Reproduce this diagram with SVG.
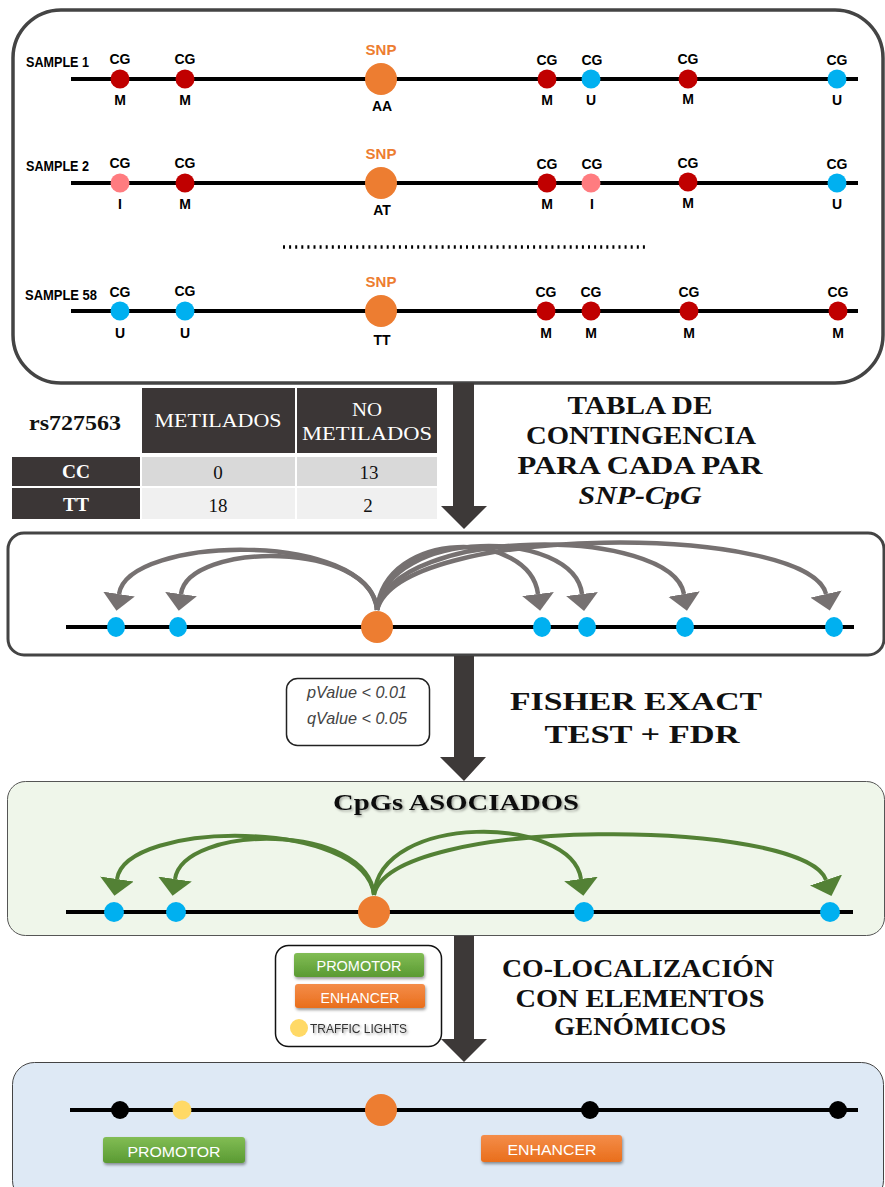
<svg xmlns="http://www.w3.org/2000/svg" width="885" height="1187" viewBox="0 0 885 1187">
<style>
.lbl{font-family:"Liberation Sans",Arial,sans-serif;font-weight:bold;font-size:14px;fill:#000;text-anchor:middle;}
.snpl{font-family:"Liberation Sans",Arial,sans-serif;font-weight:bold;font-size:15px;fill:#ed7d31;text-anchor:middle;}
.slbl{font-family:"Liberation Sans",Arial,sans-serif;font-weight:bold;font-size:14px;fill:#000;}
.head{font-family:"Liberation Serif","Times New Roman",serif;font-weight:bold;font-size:25px;fill:#111;text-anchor:middle;}
.tcell{font-family:"Liberation Serif","Times New Roman",serif;font-size:19px;text-anchor:middle;}
.btn{font-family:"Liberation Sans",Arial,sans-serif;font-size:15px;fill:#fff;text-anchor:middle;}
.chrom{stroke:#000;stroke-width:4;fill:none;}
.red{fill:#c00000;}
.blue{fill:#00b0f0;}
.pink{fill:#ff7c80;}
.snp{fill:#ed7d31;}
.dark{fill:#3b3636;}
.big{fill:#3d3938;}
.garc{fill:none;stroke:#767171;stroke-width:4.5;marker-end:url(#headGray);}
.greenarc{fill:none;stroke:#538135;stroke-width:4;marker-end:url(#headGreen);}
</style>
<defs>
<marker id="headGray" viewBox="0 0 17 32" refX="0" refY="16" markerWidth="17" markerHeight="32" orient="auto" markerUnits="userSpaceOnUse">
<path d="M0,0 L17,16 L0,32 z" fill="#767171"/>
</marker>
<marker id="headGreen" viewBox="0 0 17 34" refX="0" refY="17" markerWidth="17" markerHeight="34" orient="auto" markerUnits="userSpaceOnUse">
<path d="M0,0 L17,17 L0,34 z" fill="#538135"/>
</marker>
<linearGradient id="gGreen" x1="0" y1="0" x2="0" y2="1">
<stop offset="0" stop-color="#82bd55"/>
<stop offset="1" stop-color="#5a9a32"/>
</linearGradient>
<linearGradient id="gOrange" x1="0" y1="0" x2="0" y2="1">
<stop offset="0" stop-color="#f48d4a"/>
<stop offset="1" stop-color="#e96e1b"/>
</linearGradient>
<filter id="shadow" x="-20%" y="-30%" width="140%" height="180%">
<feDropShadow dx="1" dy="2" stdDeviation="1.5" flood-color="#000" flood-opacity="0.4"/>
</filter>
<filter id="tshadow" x="-10%" y="-30%" width="120%" height="170%">
<feDropShadow dx="1.5" dy="1.5" stdDeviation="1.2" flood-color="#000" flood-opacity="0.35"/>
</filter>
</defs>

<!-- Panels -->
<g id="panel-samples">
<rect x="13" y="10" width="870" height="373" rx="48" ry="48" fill="#fff" stroke="#444" stroke-width="3.5"/>
</g>
<g id="panel-pairs">
<rect x="8" y="533" width="876" height="122" rx="16" ry="16" fill="#fff" stroke="#444" stroke-width="3"/>
</g>
<g id="panel-associated">
<rect x="7.5" y="781.5" width="877" height="154" rx="18" ry="18" fill="#eff6ea" stroke="#555" stroke-width="1"/>
</g>
<g id="panel-colocalization">
<rect x="12.5" y="1062.5" width="871" height="140" rx="22" ry="22" fill="#dee9f5" stroke="#444" stroke-width="1"/>
</g>

<!-- Sample 1 -->
<g id="sample1">
<text class="slbl" x="26" y="67" textLength="63" lengthAdjust="spacingAndGlyphs">SAMPLE 1</text>
<line class="chrom" x1="71" y1="79" x2="858" y2="79"/>
<circle class="red" cx="120" cy="79" r="9.5"/>
<circle class="red" cx="185" cy="79" r="9.5"/>
<circle class="snp" cx="381" cy="79" r="16"/>
<circle class="red" cx="547" cy="79" r="9.5"/>
<circle class="blue" cx="591" cy="79" r="9.5"/>
<circle class="red" cx="688" cy="79" r="9.5"/>
<circle class="blue" cx="837" cy="79" r="9.5"/>
<text class="lbl" x="120" y="64">CG</text>
<text class="lbl" x="185" y="64">CG</text>
<text class="snpl" x="381" y="55">SNP</text>
<text class="lbl" x="547" y="65">CG</text>
<text class="lbl" x="592" y="65">CG</text>
<text class="lbl" x="688" y="64">CG</text>
<text class="lbl" x="837" y="65">CG</text>
<text class="lbl" x="120" y="105">M</text>
<text class="lbl" x="185" y="105">M</text>
<text class="lbl" x="382" y="111">AA</text>
<text class="lbl" x="547" y="105">M</text>
<text class="lbl" x="591" y="105">U</text>
<text class="lbl" x="688" y="104">M</text>
<text class="lbl" x="837" y="105">U</text>
</g>

<!-- Sample 2 -->
<g id="sample2">
<text class="slbl" x="26" y="171" textLength="63" lengthAdjust="spacingAndGlyphs">SAMPLE 2</text>
<line class="chrom" x1="71" y1="183" x2="858" y2="183"/>
<circle class="pink" cx="120" cy="183" r="9.5"/>
<circle class="red" cx="185" cy="183" r="9.5"/>
<circle class="snp" cx="381" cy="183" r="16"/>
<circle class="red" cx="547" cy="183" r="9.5"/>
<circle class="pink" cx="591" cy="183" r="9.5"/>
<circle class="red" cx="688" cy="182" r="9.5"/>
<circle class="blue" cx="837" cy="183" r="9.5"/>
<text class="lbl" x="120" y="168">CG</text>
<text class="lbl" x="185" y="168">CG</text>
<text class="snpl" x="381" y="159">SNP</text>
<text class="lbl" x="547" y="169">CG</text>
<text class="lbl" x="592" y="169">CG</text>
<text class="lbl" x="688" y="168">CG</text>
<text class="lbl" x="837" y="169">CG</text>
<text class="lbl" x="120" y="209">I</text>
<text class="lbl" x="185" y="209">M</text>
<text class="lbl" x="382" y="215">AT</text>
<text class="lbl" x="547" y="209">M</text>
<text class="lbl" x="592" y="209">I</text>
<text class="lbl" x="688" y="208">M</text>
<text class="lbl" x="837" y="209">U</text>
</g>

<g id="ellipsis">
<line x1="283" y1="247" x2="648" y2="247" stroke="#000" stroke-width="3.5" stroke-dasharray="2 4.1"/>
</g>

<!-- Sample 58 -->
<g id="sample58">
<text class="slbl" x="25" y="300" textLength="72" lengthAdjust="spacingAndGlyphs">SAMPLE 58</text>
<line class="chrom" x1="71" y1="311" x2="858" y2="311"/>
<circle class="blue" cx="120" cy="311" r="9.5"/>
<circle class="blue" cx="185" cy="311" r="9.5"/>
<circle class="snp" cx="381" cy="311" r="16"/>
<circle class="red" cx="546" cy="311" r="9.5"/>
<circle class="red" cx="591" cy="311" r="9.5"/>
<circle class="red" cx="689" cy="311" r="9.5"/>
<circle class="red" cx="838" cy="311" r="9.5"/>
<text class="lbl" x="120" y="297">CG</text>
<text class="lbl" x="185" y="296">CG</text>
<text class="snpl" x="381" y="287">SNP</text>
<text class="lbl" x="546" y="297">CG</text>
<text class="lbl" x="591" y="297">CG</text>
<text class="lbl" x="689" y="297">CG</text>
<text class="lbl" x="838" y="297">CG</text>
<text class="lbl" x="120" y="338">U</text>
<text class="lbl" x="185" y="338">U</text>
<text class="lbl" x="382" y="345">TT</text>
<text class="lbl" x="546" y="338">M</text>
<text class="lbl" x="591" y="338">M</text>
<text class="lbl" x="689" y="338">M</text>
<text class="lbl" x="838" y="338">M</text>
</g>

<!-- Contingency table -->
<g id="table">
<text x="75" y="430" font-family="'Liberation Serif','Times New Roman',serif" font-weight="bold" font-size="20" text-anchor="middle" textLength="92" lengthAdjust="spacingAndGlyphs" fill="#111">rs727563</text>
<rect class="dark" x="142" y="388" width="153" height="65"/>
<rect class="dark" x="297" y="388" width="140" height="65"/>
<rect class="dark" x="12" y="457" width="128" height="29"/>
<rect x="142" y="457" width="153" height="29" fill="#d9d9d9"/>
<rect x="297" y="457" width="140" height="29" fill="#d9d9d9"/>
<rect class="dark" x="12" y="488" width="128" height="31"/>
<rect x="142" y="488" width="153" height="31" fill="#f0f0f0"/>
<rect x="297" y="488" width="140" height="31" fill="#f0f0f0"/>
<text class="tcell" x="218" y="427" fill="#fff" textLength="127" lengthAdjust="spacingAndGlyphs">METILADOS</text>
<text class="tcell" x="367" y="416" fill="#fff" textLength="30" lengthAdjust="spacingAndGlyphs">NO</text>
<text class="tcell" x="367" y="440" fill="#fff" textLength="130" lengthAdjust="spacingAndGlyphs">METILADOS</text>
<text class="tcell" x="76" y="478" fill="#fff" font-weight="bold" textLength="28" lengthAdjust="spacingAndGlyphs">CC</text>
<text class="tcell" x="218" y="479" fill="#111">0</text>
<text class="tcell" x="369" y="479" fill="#111">13</text>
<text class="tcell" x="76" y="511" fill="#fff" font-weight="bold" textLength="26" lengthAdjust="spacingAndGlyphs">TT</text>
<text class="tcell" x="218" y="512" fill="#111">18</text>
<text class="tcell" x="368" y="512" fill="#111">2</text>
</g>

<g id="label-tabla">
<text class="head" x="640" y="414" textLength="145" lengthAdjust="spacingAndGlyphs">TABLA DE</text>
<text class="head" x="641" y="444" textLength="230" lengthAdjust="spacingAndGlyphs">CONTINGENCIA</text>
<text class="head" x="640" y="474" textLength="245" lengthAdjust="spacingAndGlyphs">PARA CADA PAR</text>
<text class="head" x="640" y="504" font-style="italic" textLength="123" lengthAdjust="spacingAndGlyphs">SNP-CpG</text>
</g>

<!-- Panel 2 content -->
<g id="pairs-chromosome">
<line class="chrom" x1="66" y1="627" x2="854" y2="627"/>
<ellipse class="blue" cx="116" cy="627" rx="9" ry="10"/>
<ellipse class="blue" cx="178" cy="627" rx="9" ry="10"/>
<ellipse class="snp" cx="377" cy="627" rx="16" ry="16"/>
<ellipse class="blue" cx="542" cy="627" rx="9" ry="10"/>
<ellipse class="blue" cx="587" cy="627" rx="9" ry="10"/>
<ellipse class="blue" cx="685" cy="627" rx="9" ry="10"/>
<ellipse class="blue" cx="834" cy="627" rx="9" ry="10"/>
</g>

<g id="pvalue-box">
<rect x="286.5" y="678.5" width="143" height="67" rx="11" ry="11" fill="#fff" stroke="#222" stroke-width="1.5"/>
<text x="357" y="698" font-family="'Liberation Sans',Arial,sans-serif" font-style="italic" font-size="17" fill="#444" text-anchor="middle" textLength="100" lengthAdjust="spacingAndGlyphs">pValue &lt; 0.01</text>
<text x="357" y="724" font-family="'Liberation Sans',Arial,sans-serif" font-style="italic" font-size="17" fill="#444" text-anchor="middle" textLength="100" lengthAdjust="spacingAndGlyphs">qValue &lt; 0.05</text>
</g>

<g id="label-fisher">
<text class="head" x="636" y="710" font-size="26" textLength="252" lengthAdjust="spacingAndGlyphs">FISHER EXACT</text>
<text class="head" x="642" y="743" font-size="26" textLength="195" lengthAdjust="spacingAndGlyphs">TEST + FDR</text>
</g>

<!-- Green panel content -->
<g id="associated-title">
<text x="456" y="810" font-family="'Liberation Serif','Times New Roman',serif" font-weight="bold" font-size="24" fill="#111" text-anchor="middle" textLength="246" lengthAdjust="spacingAndGlyphs" filter="url(#tshadow)">CpGs ASOCIADOS</text>
</g>
<g id="associated-chromosome">
<line class="chrom" x1="66" y1="912" x2="853" y2="912"/>
<circle class="blue" cx="114" cy="912" r="10"/>
<circle class="blue" cx="176" cy="912" r="10"/>
<circle class="snp" cx="374" cy="912" r="16"/>
<circle class="blue" cx="584" cy="912" r="10"/>
<circle class="blue" cx="830" cy="912" r="10"/>
</g>

<g id="legend">
<rect x="275.5" y="945.5" width="166" height="101" rx="13" ry="13" fill="#fff" stroke="#111" stroke-width="1.5"/>
<rect x="294" y="953" width="130" height="24" rx="3" fill="url(#gGreen)" filter="url(#shadow)"/>
<text class="btn" x="359" y="971" textLength="85" lengthAdjust="spacingAndGlyphs">PROMOTOR</text>
<rect x="295" y="984" width="130" height="24" rx="3" fill="url(#gOrange)" filter="url(#shadow)"/>
<text class="btn" x="360" y="1003" textLength="79" lengthAdjust="spacingAndGlyphs">ENHANCER</text>
<circle cx="299" cy="1028" r="9" fill="#ffd966"/>
<text x="310" y="1033" font-family="'Liberation Sans',Arial,sans-serif" font-size="13" fill="#333" textLength="97" lengthAdjust="spacingAndGlyphs" filter="url(#tshadow)">TRAFFIC LIGHTS</text>
</g>

<g id="label-colocalization">
<text class="head" x="638" y="977" textLength="272" lengthAdjust="spacingAndGlyphs">CO-LOCALIZACIÓN</text>
<text class="head" x="640" y="1007" textLength="249" lengthAdjust="spacingAndGlyphs">CON ELEMENTOS</text>
<text class="head" x="640" y="1035" textLength="172" lengthAdjust="spacingAndGlyphs">GENÓMICOS</text>
</g>

<!-- Bottom panel content -->
<g id="colocalization-chromosome">
<line class="chrom" x1="70" y1="1110" x2="858" y2="1110"/>
<circle cx="120" cy="1110" r="9" fill="#000"/>
<circle cx="182" cy="1110" r="9.5" fill="#ffd966"/>
<circle class="snp" cx="381" cy="1110" r="16"/>
<circle cx="590" cy="1110" r="9" fill="#000"/>
<circle cx="838" cy="1110" r="9" fill="#000"/>
</g>
<g id="promotor-element">
<rect x="103" y="1137" width="142" height="26" rx="3" fill="url(#gGreen)" filter="url(#shadow)"/>
<text class="btn" x="174" y="1157" font-size="17" textLength="93" lengthAdjust="spacingAndGlyphs">PROMOTOR</text>
</g>
<g id="enhancer-element">
<rect x="481" y="1135" width="141" height="27" rx="3" fill="url(#gOrange)" filter="url(#shadow)"/>
<text class="btn" x="552" y="1155" font-size="17" textLength="89" lengthAdjust="spacingAndGlyphs">ENHANCER</text>
</g>

<!-- Connectors -->
<g id="connectors">
<path class="big" d="M453,383 H474 V506 H487 L464,529 L441,506 H453 Z"/>
<path class="big" d="M454,656 H474 V757 H486 L464,781 L440,757 H454 Z"/>
<path class="big" d="M454,936 H474 V1039 H487 L464,1062 L441,1039 H454 Z"/>

<path class="garc" d="M377,610 C370,530 128,535 119,594"/>
<path class="garc" d="M377,610 C372,540 188,542 181,594"/>
<path class="garc" d="M377,610 C385,528 530,530 538,594"/>
<path class="garc" d="M377,610 C388,527 574,528 582,594"/>
<path class="garc" d="M377,610 C395,525 672,526 684,594"/>
<path class="garc" d="M377,610 C400,522 810,524 826,594"/>

<path class="greenarc" d="M374,895 C365,818 126,820 117,879"/>
<path class="greenarc" d="M374,895 C368,822 183,824 175,879"/>
<path class="greenarc" d="M374,895 C380,812 572,815 581,879"/>
<path class="greenarc" d="M374,895 C390,815 805,818 826,880"/>
</g>
</svg>
